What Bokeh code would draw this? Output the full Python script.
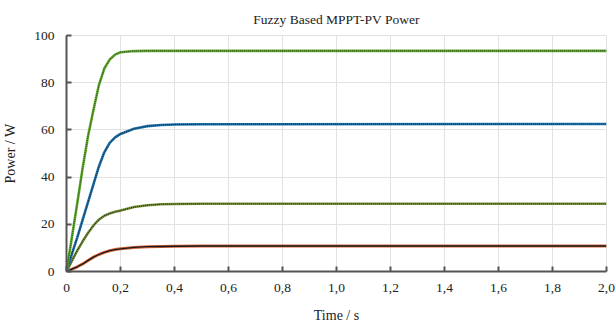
from bokeh.plotting import figure
from bokeh.models import FixedTicker, CustomJSTickFormatter, Range1d
from bokeh.embed import file_html
from bokeh.resources import INLINE

# Time samples (s)
t = [0, 0.02, 0.04, 0.06, 0.08, 0.10, 0.12, 0.14, 0.16, 0.18, 0.20,
     0.25, 0.30, 0.35, 0.40, 0.50, 2.0]

# PV power for four irradiance levels (W)
p_green = [0, 14.5, 29, 44, 57.5, 68.5, 79, 86, 89.8, 91.9, 92.9,
           93.4, 93.5, 93.5, 93.5, 93.5, 93.5]
p_blue = [0, 7.5, 14.5, 22, 29.5, 37, 44.5, 50.5, 54.5, 56.8, 58.3,
          60.5, 61.6, 62.1, 62.3, 62.4, 62.5]
p_olive = [0, 4.5, 8.9, 12.8, 16.4, 19.5, 22.0, 23.6, 24.6, 25.3, 25.8,
           27.3, 28.1, 28.5, 28.6, 28.7, 28.7]
p_red = [0, 1.0, 2.0, 3.2, 4.7, 6.1, 7.2, 8.1, 8.8, 9.3, 9.6,
         10.2, 10.5, 10.6, 10.7, 10.8, 10.8]

x_ticks = [0, 0.2, 0.4, 0.6, 0.8, 1.0, 1.2, 1.4, 1.6, 1.8, 2.0]
y_ticks = [0, 20, 40, 60, 80, 100]

FONT = "Liberation Serif"

p = figure(width=616, height=327, output_backend="svg", toolbar_location=None,
           x_range=Range1d(0, 2.0), y_range=Range1d(0, 100),
           title="Fuzzy Based MPPT-PV Power",
           min_border_left=66, min_border_right=10, min_border_top=35,
           min_border_bottom=56)

p.title.align = "center"
p.title.offset = 6
p.title.text_font = FONT
p.title.text_font_size = "13.5px"
p.title.text_font_style = "normal"
p.title.text_color = "#222222"
p.title.standoff = 17

p.outline_line_color = "#e2e2e2"
p.background_fill_color = "white"
p.border_fill_color = "white"

p.xaxis.ticker = FixedTicker(ticks=x_ticks)
p.yaxis.ticker = FixedTicker(ticks=y_ticks)
p.xaxis.formatter = CustomJSTickFormatter(
    code='return tick === 0 ? "0" : tick.toFixed(1).replace(".", ",");')
p.xaxis.axis_label = "Time / s"
p.yaxis.axis_label = "Power / W"

for ax in (p.xaxis, p.yaxis):
    ax.axis_line_color = "#555555"
    ax.axis_line_width = 2
    ax.major_tick_line_color = "#555555"
    ax.major_tick_line_width = 2
    ax.major_tick_in = 5
    ax.major_tick_out = 0
    ax.minor_tick_line_color = None
    ax.major_label_text_font = FONT
    ax.major_label_text_font_size = "13.5px"
    ax.major_label_text_color = "#222222"
    ax.axis_label_text_font = FONT
    ax.axis_label_text_font_size = "14px"
    ax.axis_label_text_font_style = "normal"
    ax.axis_label_text_color = "#222222"

p.xaxis.major_label_standoff = 12
p.xaxis.axis_label_standoff = 13
p.yaxis.major_label_standoff = 12
p.yaxis.axis_label_standoff = 13

p.xgrid.grid_line_color = "#e2e2e2"
p.ygrid.grid_line_color = "#e2e2e2"
p.xgrid.grid_line_width = 1
p.ygrid.grid_line_width = 1

# Curves: coloured base line with a dark dotted/solid overlay
p.line(t, p_red, line_color="#d8643a", line_width=3)
p.line(t, p_red, line_color="#1a1a1a", line_width=1.3)

p.line(t, p_olive, line_color="#7a9440", line_width=2.6)
p.line(t, p_olive, line_color="#1e2410", line_width=1.2, line_dash="1 1")

p.line(t, p_blue, line_color="#2474ad", line_width=2.6)
p.line(t, p_blue, line_color="#0d2a40", line_width=1.2, line_dash="1 1")

p.line(t, p_green, line_color="#62ad2e", line_width=2.6)
p.line(t, p_green, line_color="#2e5418", line_width=1.2, line_dash="1 1")

open("out.html", "w").write(file_html(p, INLINE))
